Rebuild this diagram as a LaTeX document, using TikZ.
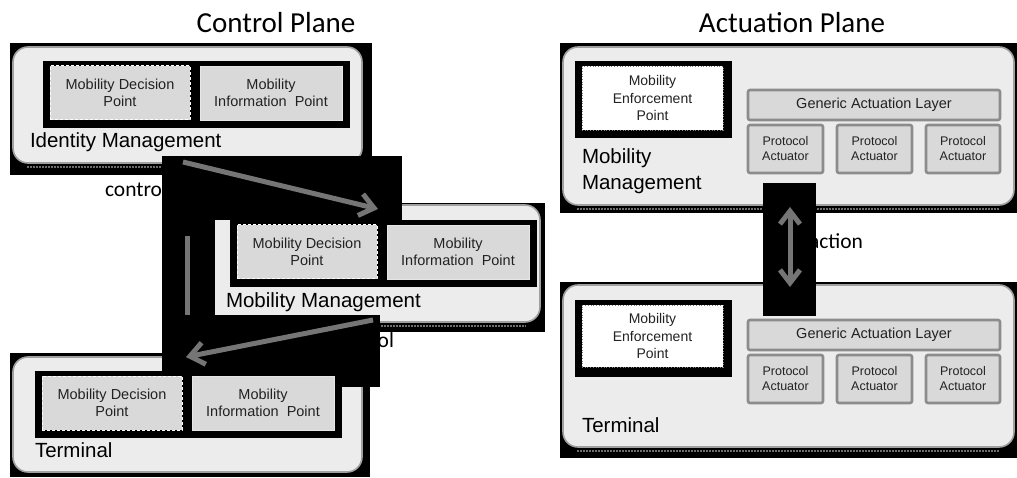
\documentclass[tikz,border=0pt]{standalone}
\usepackage{fontspec}
\setmainfont{Liberation Sans}
\newfontfamily\calfont{Carlito}
\usetikzlibrary{arrows.meta}

\definecolor{panelfill}{HTML}{ECECEC}
\definecolor{panelline}{HTML}{A0A0A0}
\definecolor{boxfill}{HTML}{D9D9D9}
\definecolor{mipline}{HTML}{E6E6E6}
\definecolor{galline}{HTML}{8C8C8C}
\definecolor{flowgray}{HTML}{757575}
\definecolor{shadowgray}{HTML}{6E6E6E}
\definecolor{textgray}{HTML}{222222}

% rectangular node given by its top-left and bottom-right corners
\newcommand\areanode[7]{%
  \node[#1, minimum width=#5pt-#3pt, minimum height=#6pt-#4pt, anchor=north west] (#2) at (#3,#4) {#7};}

\begin{document}
\begin{tikzpicture}[x=1pt, y=-1pt,
  every node/.style={inner sep=0pt, outer sep=0pt},
  mask/.style={fill=black, draw=none},
  panel/.style={fill=panelfill, draw=panelline, line width=1.6pt, rounded corners=15pt},
  strip/.style={fill=black, draw=none},
  inner text/.style={align=center, text=textgray, font=\fontsize{14.5}{17}\selectfont},
  mdp/.style={inner text, fill=boxfill, draw=white, line width=1pt, dash pattern=on 3pt off 2pt},
  mip/.style={inner text, fill=boxfill, draw=mipline, line width=0.8pt},
  mep/.style={inner text, fill=white, draw=gray, line width=0.7pt, dotted, font=\fontsize{14}{17.5}\selectfont},
  gal/.style={inner text, fill=boxfill, draw=galline, line width=2.6pt, rounded corners=2pt},
  pa/.style={gal, font=\fontsize{12.5}{15}\selectfont},
  plabel/.style={anchor=base west, text=black, font=\fontsize{20.5}{26}\selectfont},
  title/.style={anchor=base, font=\calfont\fontsize{29}{34}\selectfont},
  flow label/.style={anchor=base west, font=\calfont\fontsize{21.5}{26}\selectfont},
  shadow line/.style={draw=shadowgray, line width=1.2pt, dash pattern=on 1.5pt off 1.5pt},
  tip/.style={Straight Barb[length=14pt, width=22pt]},
  flow/.style={draw=flowgray, line width=5pt, -{Straight Barb[length=14pt, width=22pt]}},
  flow line/.style={draw=flowgray, line width=5pt},
  twoway/.style={draw=flowgray, line width=5pt, {Straight Barb[length=13pt, width=20pt]}-{Straight Barb[length=13pt, width=20pt]}}
]
\useasboundingbox (0,0) rectangle (1017,478);
\fill[white] (0,0) rectangle (1017,478);

% ---------------- Control plane ----------------
\node[title] (tctl) at (276,33) {Control Plane};

% Identity management
\areanode{mask}{bgA}{10}{43}{372}{175}{}
\areanode{panel}{pA}{13}{47}{362}{163}{}
\draw[shadow line] ([xshift=14pt,yshift=-4pt]pA.south west) -- ([xshift=-14pt,yshift=-4pt]pA.south east);
\areanode{strip}{sA}{43}{61}{350}{128}{}
\areanode{mdp}{dA}{50}{66}{190}{120}{Mobility Decision\\Point}
\areanode{mip}{iA}{200}{66}{342}{120}{Mobility\\Information~ Point}
\node[plabel] (lA) at (30,148) {Identity Management};

\node[flow label] (ctl1) at (105,197) {control};

% Mobility management
\areanode{mask}{bgB}{205}{203}{545}{332}{}
\areanode{panel}{pB}{208}{205}{540}{322}{}
\draw[shadow line] ([xshift=14pt,yshift=-4pt]pB.south west) -- ([xshift=-14pt,yshift=-4pt]pB.south east);
\areanode{strip}{sB}{230}{220}{537}{287}{}
\areanode{mdp}{dB}{237}{225}{377}{279}{Mobility Decision\\Point}
\areanode{mip}{iB}{387}{225}{529}{279}{Mobility\\Information~ Point}
\node[plabel] (lB) at (226,307) {Mobility Management};

\node[flow label] (ctl2) at (332,347) {control};

% Terminal
\areanode{mask}{bgC}{10}{353}{370}{477}{}
\areanode{panel}{pC}{13}{357}{362}{472}{}

% backgrounds of the connectors
\areanode{mask}{m1}{162}{156}{402}{220}{}
\areanode{mask}{m2}{162}{156}{215}{320}{}
\areanode{mask}{m3}{162}{315}{380}{387}{}

\areanode{strip}{sC}{35}{371}{342}{438}{}
\areanode{mdp}{dC}{42}{376}{182}{430}{Mobility Decision\\Point}
\areanode{mip}{iC}{192}{376}{334}{430}{Mobility\\Information~ Point}
\node[plabel] (lC) at (35,457) {Terminal};

% control connectors
\coordinate (a1s) at (183,162);
\coordinate (a1e) at (378,209);
\draw[flow] (a1s) -- (a1e);
\coordinate (v1s) at (187,236);
\coordinate (v1e) at (187,315);
\draw[flow line] (v1s) -- (v1e);
\coordinate (a2s) at (373,320);
\coordinate (a2e) at (186,357);
\draw[flow] (a2s) -- (a2e);

% ---------------- Actuation plane ----------------
\node[title] (tact) at (792,33) {Actuation Plane};

% Mobility management
\areanode{mask}{bgR1}{560}{43}{1017}{213}{}
\areanode{panel}{pR1}{563}{47}{1014}{205}{}
\draw[shadow line] ([xshift=14pt,yshift=-4pt]pR1.south west) -- ([xshift=-14pt,yshift=-4pt]pR1.south east);
\areanode{mask}{fR1}{575}{61}{732}{138}{}
\areanode{mep}{eR1}{582}{66}{723}{130}{Mobility\\Enforcement\\Point}
\areanode{gal}{gR1}{748}{90}{1000}{120}{Generic Actuation Layer}
\areanode{pa}{paR1a}{748}{125}{823}{173}{Protocol\\Actuator}
\areanode{pa}{paR1b}{837}{125}{912}{173}{Protocol\\Actuator}
\areanode{pa}{paR1c}{926}{125}{1000}{173}{Protocol\\Actuator}
\node[plabel, anchor=north west, align=left] (lR1) at (582,149) {Mobility\\Management};

% Terminal
\areanode{mask}{bgR2}{560}{282}{1017}{458}{}
\areanode{panel}{pR2}{563}{285}{1014}{447}{}
\draw[shadow line] ([xshift=14pt,yshift=-4pt]pR2.south west) -- ([xshift=-14pt,yshift=-4pt]pR2.south east);
\areanode{mask}{fR2}{575}{300}{732}{377}{}
\areanode{mep}{eR2}{582}{305}{723}{367}{Mobility\\Enforcement\\Point}
\areanode{gal}{gR2}{748}{320}{1000}{350}{Generic Actuation Layer}
\areanode{pa}{paR2a}{748}{355}{823}{403}{Protocol\\Actuator}
\areanode{pa}{paR2b}{837}{355}{912}{403}{Protocol\\Actuator}
\areanode{pa}{paR2c}{926}{355}{1000}{403}{Protocol\\Actuator}
\node[plabel] (lR2) at (582,432) {Terminal};

% action connector
\node[flow label] (act) at (809,249) {action};
\areanode{mask}{m4}{763}{183}{816}{316}{}
\coordinate (a3s) at (790,207);
\coordinate (a3e) at (790,287);
\draw[twoway] (a3s) -- (a3e);
\end{tikzpicture}
\end{document}
